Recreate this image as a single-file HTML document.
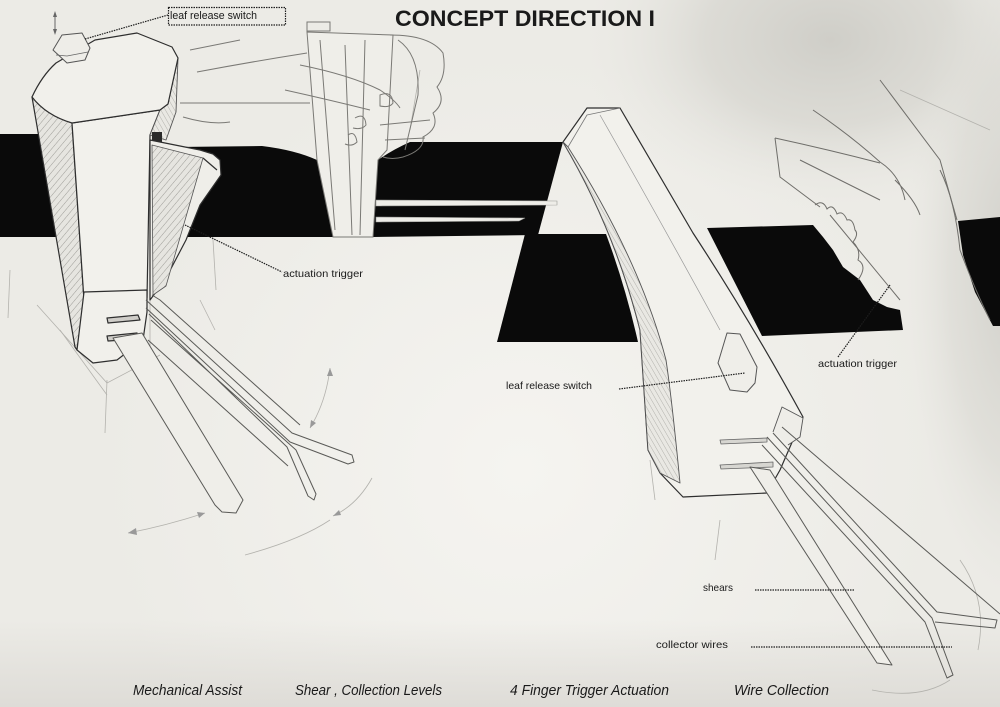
<!DOCTYPE html>
<html><head><meta charset="utf-8"><style>
html,body{margin:0;padding:0;background:#edece7;}
svg{display:block}
</style></head><body>
<svg width="1000" height="707" viewBox="0 0 1000 707" xmlns="http://www.w3.org/2000/svg">
<defs>
<radialGradient id="smudge" cx="0" cy="0" r="1" gradientUnits="userSpaceOnUse" gradientTransform="translate(830,40) scale(250,170)">
<stop offset="0" stop-color="#cfcec8"/><stop offset="0.5" stop-color="#d8d7d1" stop-opacity="0.8"/><stop offset="1" stop-color="#e9e8e3" stop-opacity="0"/>
</radialGradient>
<radialGradient id="redge" cx="0" cy="0" r="1" gradientUnits="userSpaceOnUse" gradientTransform="translate(1015,270) scale(110,330)">
<stop offset="0" stop-color="#d0cfc9"/><stop offset="0.6" stop-color="#d9d8d2" stop-opacity="0.6"/><stop offset="1" stop-color="#e5e4df" stop-opacity="0"/>
</radialGradient>
<radialGradient id="light" cx="520" cy="470" r="420" gradientUnits="userSpaceOnUse">
<stop offset="0" stop-color="#f5f4f0"/><stop offset="1" stop-color="#f5f4f0" stop-opacity="0"/>
</radialGradient>
<linearGradient id="bedge" x1="0" x2="0" y1="620" y2="707" gradientUnits="userSpaceOnUse"><stop offset="0" stop-color="#dedcd7" stop-opacity="0"/><stop offset="1" stop-color="#dedcd7"/></linearGradient>
<pattern id="hatch" width="5" height="5" patternUnits="userSpaceOnUse" patternTransform="rotate(40)">
<rect width="5" height="5" fill="#e6e5e0"/><line x1="0" y1="0" x2="0" y2="5" stroke="#8a8985" stroke-width="0.8"/></pattern>
<pattern id="hatch2" width="4" height="4" patternUnits="userSpaceOnUse" patternTransform="rotate(-30)">
<rect width="4" height="4" fill="#e9e8e3"/><line x1="0" y1="0" x2="0" y2="4" stroke="#9a9995" stroke-width="0.7"/></pattern>
</defs>
<rect width="1000" height="707" fill="#ecebe6"/>
<rect width="1000" height="707" fill="url(#light)"/>
<rect width="1000" height="707" fill="url(#smudge)"/>
<rect width="1000" height="707" fill="url(#redge)"/>
<rect y="620" width="1000" height="87" fill="url(#bedge)"/>

<!-- faint construction lines -->
<g stroke="#b3b2ad" stroke-width="0.8" fill="none">
<path d="M10,270 L8,318"/>
<path d="M107,380 L105,433"/>
<path d="M37,305 L107,383 L160,355"/>
<path d="M60,330 L107,395"/>
<path d="M200,300 L215,330"/>
<path d="M128,533 Q165,526 205,513"/>
<path d="M330,368 Q326,402 310,428"/>
<path d="M372,478 Q357,505 333,516"/>
<path d="M245,555 Q300,540 330,520"/>
<path d="M150,350 L150,300"/>
<path d="M210,190 L216,290"/>
<path d="M270,150 L275,190"/>
<path d="M420,70 L410,130"/>
<path d="M650,460 L655,500"/>
<path d="M720,520 L715,560"/>
<path d="M960,560 Q988,600 978,650"/>
<path d="M872,690 Q920,700 950,680"/>
<path d="M600,150 L640,175"/>
<path d="M900,90 L990,130"/>
</g>
<g fill="#999">
<polygon points="128,533 136,528 137,535"/>
<polygon points="205,513 197,512 199,518"/>
<polygon points="330,368 327,376 333,376"/>
<polygon points="310,428 311,420 316,423"/>
<polygon points="333,516 339,510 341,515"/>
</g>

<!-- black bands -->
<g fill="#0a0a0a">
<polygon points="0,134 39,134 56,237 0,237"/>
<path d="M176,147 L262,146 Q295,150 317,160 L333,237 L165,237 Z"/>
<path d="M378,160 Q392,150 410,142 L563,142 L538,235 L373,237 Z"/>
<path d="M525,234 L606,234 Q625,285 638,342 L497,342 Z"/>
<path d="M707,228 L813,225 L823,237 L833,250 L843,267 L860,280 L873,300 L887,307 L900,310 L903,330 L762,336 Z"/>
<path d="M958,221 L1000,217 L1000,326 L993,326 L975,292 L963,255 Z"/>
</g>
<path d="M376,200 L557,201 L557,205 L376,206 Z" fill="#eeede8" stroke="#9a9a96" stroke-width="0.6"/>
<path d="M376,217 L525,218 L519,221 L376,222 Z" fill="#eeede8" stroke="#9a9a96" stroke-width="0.6"/>

<!-- center holder + hand -->
<g stroke="#7a7975" stroke-width="1" fill="none">
<path d="M307,32 L317,160 L333,237 L373,237 L378,160 L387,150 L393,35 Z" fill="#efeee9"/>
<rect x="307" y="22" width="23" height="9" />
<path d="M320,40 L335,230 M345,45 L352,235 M365,40 L360,235"/>
<path d="M197,72 Q250,62 307,53"/>
<path d="M180,103 L310,103"/>
<path d="M183,117 Q210,125 230,122"/>
<path d="M300,65 Q350,75 380,90 Q395,100 400,108"/>
<path d="M285,90 Q330,100 370,110"/>
<path d="M390,35 Q430,35 443,53 Q447,75 437,87 Q447,102 433,113 Q440,128 423,137 Q425,150 403,157 Q392,160 383,157"/>
<path d="M398,40 Q420,55 418,95 L405,150"/>
<path d="M380,95 Q392,90 393,103 Q390,108 380,106 Z"/>
<path d="M355,118 Q365,112 366,125 Q362,130 353,128"/>
<path d="M348,135 Q355,130 357,142 Q352,147 345,144"/>
<path d="M380,125 L430,120 M385,140 L425,138"/>
<path d="M190,50 L240,40"/>
</g>

<!-- tower (left device) -->
<g stroke="#2e2e2e" stroke-width="1.2" stroke-linejoin="round">
<polygon points="32,97 72,123 84,300 77,350 75,347" fill="url(#hatch)"/>
<polygon points="72,123 160,110 150,135 147,298 84,300" fill="#f2f1ec"/>
<polygon points="160,110 168,104 178,58 176,112 166,140 150,135" fill="url(#hatch2)" stroke="#555" stroke-width="0.9"/>
<path d="M32,97 C38,84 46,72 56,63 L95,40 L137,33 L172,47 L178,58 L168,104 L160,110 L72,123 C55,118 42,110 32,97 Z" fill="#f1f0eb"/>
<polygon points="84,292 147,290 147,312 143,340 117,360 93,363 77,350" fill="#f1f0eb"/>
<polygon points="53,50 62,35 82,33 90,48 85,60 67,63" fill="#eeede8" stroke="#555" stroke-width="1"/>
<path d="M56,55 L67,56 L88,52" fill="none" stroke="#666" stroke-width="0.8"/>
<rect x="152" y="132" width="10" height="11" fill="#2a2a2a" stroke="none"/>
<path d="M107,318 L138,315 L140,320 L108,323 Z" fill="#cfcdc8"/>
<path d="M107,336 L137,333 L138,339 L108,341 Z" fill="#cfcdc8"/>
<path d="M150,140 L200,150 L213,154 L220,160 L221,175 L200,205 L186,240 L165,280 L150,300 Z" fill="#efeee9"/>
<path d="M152,145 L203,158 L166,286 L153,295 Z" fill="url(#hatch)" stroke="#555" stroke-width="0.8"/>
<path d="M203,158 L217,170" fill="none"/>
</g>
<path d="M55,14 L55,32" stroke="#666" stroke-width="1"/>
<polygon points="55,11 53,17 57,17" fill="#666"/>
<polygon points="55,35 53,29 57,29" fill="#666"/>

<!-- left shears & wires -->
<g stroke="#5a5a57" stroke-width="1" fill="none" stroke-linejoin="round">
<path d="M113,338 L142,333 L243,500 L236,513 L222,512 L215,505 Z" fill="#efeee9"/>
<path d="M146,300 L292,433 L352,455 L354,462 L348,464 L290,442 L146,308"/>
<path d="M149,314 L287,447 L308,496 L314,500 L316,494 L296,450 L151,320"/>
<path d="M148,340 L288,466"/>
<path d="M152,295 L160,300 L300,425"/>
</g>

<!-- arch device -->
<g stroke="#2e2e2e" stroke-width="1.2" stroke-linejoin="round">
<path d="M563,142 Q615,230 640,330 L648,450 L660,473 L683,497 L767,493 L780,470 L803,417 Q750,320 693,233 L620,108 L587,108 Z" fill="#f2f1ec"/>
<path d="M563,142 Q615,230 640,330 L648,450 L660,473 L680,483 Q672,400 666,360 Q640,260 568,147 Z" fill="url(#hatch2)" stroke="#555" stroke-width="0.9"/>
<path d="M568,147 L587,115 L620,108" fill="none" stroke="#777" stroke-width="0.8"/>
<path d="M600,115 Q660,220 720,330" fill="none" stroke="#999" stroke-width="0.7"/>
<polygon points="718,363 727,333 740,334 757,367 755,383 747,392 730,390" fill="#efeee9" stroke="#555" stroke-width="1"/>
<path d="M720,440 L767,438 L767,442 L721,444 Z" fill="#d7d6d1" stroke="#666" stroke-width="0.8"/>
<path d="M720,465 L773,462 L773,467 L721,469 Z" fill="#d7d6d1" stroke="#666" stroke-width="0.8"/>
<path d="M773,432 L782,407 L803,418 L800,437 L788,445" fill="#eeede8" stroke="#555" stroke-width="0.9"/>
</g>
<g stroke="#5a5a57" stroke-width="1" fill="none" stroke-linejoin="round">
<path d="M750,467 L770,470 L892,665 L877,663 Z" fill="#efeee9"/>
<path d="M767,437 L932,618 L953,675 L947,678 L925,622 L762,445"/>
<path d="M773,433 L937,612 L997,620 L995,628 L935,622"/>
<path d="M782,427 L1000,614"/>
</g>

<!-- right hand -->
<g stroke="#6f6e6a" stroke-width="1" fill="none">
<path d="M775,138 L780,177 L820,207"/>
<path d="M775,138 Q830,150 880,163"/>
<path d="M813,110 Q850,135 880,162"/>
<path d="M880,80 L940,160 L957,220"/>
<path d="M880,162 Q900,175 905,200 M895,180 Q915,200 920,215"/>
<path d="M815,205 q8,-6 12,4 q6,-6 10,5 q6,-4 10,6 q6,-2 8,10 q4,4 -2,12 q8,8 5,18 q10,6 0,20"/>
<path d="M830,215 L900,300 M800,160 L880,200"/>
<path d="M940,170 Q955,200 960,250 Q975,290 990,320"/>
</g>

<!-- leaders -->
<g stroke="#1e1e1e" stroke-width="1.2" stroke-dasharray="1.5,1" fill="none">
<rect x="168.5" y="7.5" width="117" height="17.5"/>
<path d="M85,39 L168,15"/>
<path d="M185,225 L282,272"/>
<path d="M619,389 L745,373"/>
<path d="M838,357 L890,285"/>
<path d="M755,590 L855,590"/>
<path d="M751,647 L952,647"/>
</g>

<!-- text -->
<g font-family="'Liberation Sans', Arial, sans-serif" fill="#1a1a1a">
<text x="395" y="26" font-size="22" font-weight="bold" textLength="260" lengthAdjust="spacingAndGlyphs">CONCEPT DIRECTION I</text>
<text x="170" y="19" font-size="11" textLength="87" lengthAdjust="spacingAndGlyphs">leaf release switch</text>
<text x="283" y="277" font-size="10.5" textLength="80" lengthAdjust="spacingAndGlyphs">actuation trigger</text>
<text x="506" y="389" font-size="10.5" textLength="86" lengthAdjust="spacingAndGlyphs">leaf release switch</text>
<text x="818" y="367" font-size="10.5" textLength="79" lengthAdjust="spacingAndGlyphs">actuation trigger</text>
<text x="703" y="591" font-size="10.5" textLength="30" lengthAdjust="spacingAndGlyphs">shears</text>
<text x="656" y="648" font-size="10.5" textLength="72" lengthAdjust="spacingAndGlyphs">collector wires</text>
<g font-style="italic" font-size="14.5">
<text x="133" y="695" textLength="109" lengthAdjust="spacingAndGlyphs">Mechanical Assist</text>
<text x="295" y="695" textLength="147" lengthAdjust="spacingAndGlyphs">Shear , Collection Levels</text>
<text x="510" y="695" textLength="159" lengthAdjust="spacingAndGlyphs">4 Finger Trigger Actuation</text>
<text x="734" y="695" textLength="95" lengthAdjust="spacingAndGlyphs">Wire Collection</text>
</g>
</g>
</svg>
</body></html>
